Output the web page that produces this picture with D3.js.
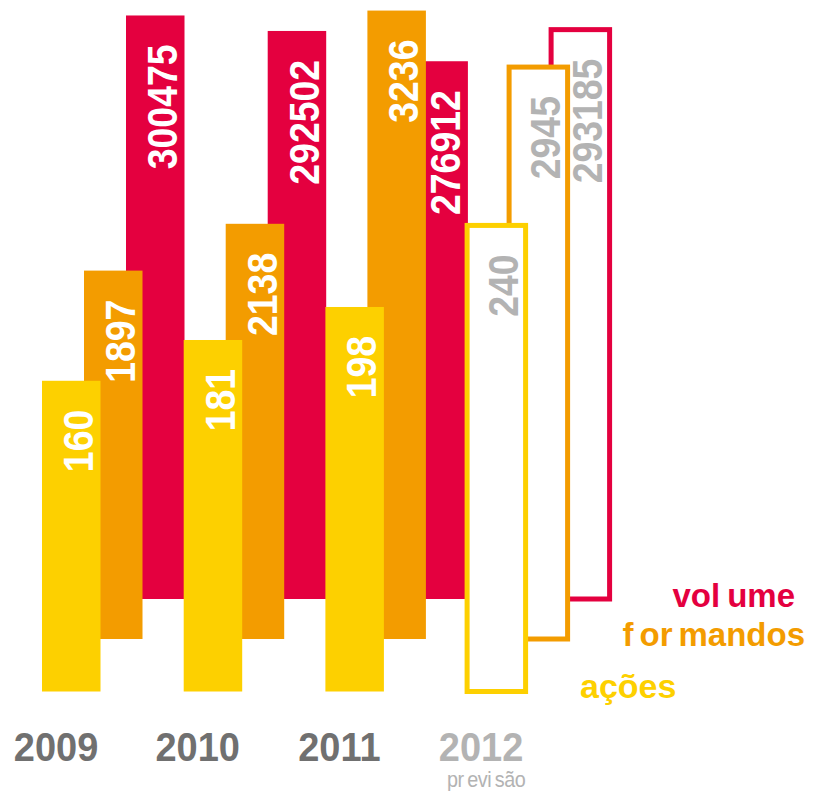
<!DOCTYPE html>
<html>
<head>
<meta charset="utf-8">
<script src="https://cdn.jsdelivr.net/npm/d3@7"></script>
<style>
  html, body { margin: 0; padding: 0; background: #fff; }
  svg { display: block; }
  text { font-family: "Liberation Sans", Arial, Helvetica, sans-serif; }
</style>
</head>
<body>
<svg id="chart" width="813" height="791"></svg>
<script>
// ---- data ----
const years = ["2009", "2010", "2011", "2012"];
const acoes = [160, 181, 198, 240];
const formandos = [1897, 2138, 3236, 2945];
const volume = [300475, 292502, 276912, 293185];
const isForecast = [false, false, false, true];
const seriesLabels = ["volume", "formandos", "ações"];
const forecastNote = "previsão";

// ---- layout ----
const svg = d3.select("#chart");
const barW = 58.5;
const stepPx = 141.7;

const x = d3.scaleBand()
  .domain(years)
  .range([42, 42 + stepPx * years.length])
  .paddingInner(0).paddingOuter(0);

const pxPerUnit = 582.6;
const yAcoes = d3.scaleLinear().domain([0, 300]).range([691.5, 691.5 - pxPerUnit]);
const yForm = d3.scaleLinear().domain([0, 3000]).range([639, 639 - pxPerUnit]);
const yVol = d3.scaleLinear().domain([0, 300000]).range([599, 599 - pxPerUnit]);

const colors = { volume: "#E4003F", formandos: "#F39C00", acoes: "#FDD000" };
const grey = "#b3b3b3";

// draw order: volume (back), formandos, ações (front)
const series = [
  { key: "volume", values: volume, y: yVol, dx: 84, color: colors.volume },
  { key: "formandos", values: formandos, y: yForm, dx: 42, color: colors.formandos },
  { key: "acoes", values: acoes, y: yAcoes, dx: 0, color: colors.acoes }
];

const gBars = svg.append("g");
series.forEach(s => {
  const data = years.map((yr, i) => ({ yr, v: s.values[i], f: isForecast[i] }));
  gBars.append("g").attr("class", "bars-" + s.key)
    .selectAll("rect").data(data).join("rect")
    .attr("x", d => x(d.yr) + s.dx)
    .attr("y", d => s.y(d.v))
    .attr("width", barW)
    .attr("height", d => s.y(0) - s.y(d.v))
    .attr("fill", d => d.f ? "#fff" : s.color)
    .attr("stroke", d => d.f ? s.color : "none")
    .attr("stroke-width", 5);
});

// value labels
const gLab = svg.append("g");
series.forEach(s => {
  const data = years.map((yr, i) => ({ yr, v: s.values[i], f: isForecast[i] }));
  gLab.append("g").selectAll("text").data(data).join("text")
    .attr("transform", d => {
      const tx = x(d.yr) + s.dx + barW - 7.5;
      const ty = s.y(d.v) + 29;
      return `translate(${tx},${ty}) rotate(-90) scale(0.89,1)`;
    })
    .attr("text-anchor", "end")
    .attr("font-size", 42)
    .attr("font-weight", "bold")
    .attr("fill", d => d.f ? grey : "#fff")
    .text(d => d.v);
});

// year labels
const gYears = svg.append("g");
gYears.selectAll("text").data(years.map((yr, i) => ({ yr, f: isForecast[i] }))).join("text")
  .attr("transform", d => `translate(${x(d.yr) + 14},761) scale(0.95,1)`)
  .attr("text-anchor", "middle")
  .attr("font-size", 40)
  .attr("font-weight", "bold")
  .attr("fill", d => d.f ? grey : "#707070")
  .text(d => d.yr);

// "previsão" note under forecast year
const fYear = years[isForecast.indexOf(true)];
const note = gYears.append("text")
  .attr("transform", `translate(${x(fYear) + 19},787) scale(0.9,1)`)
  .attr("text-anchor", "middle")
  .attr("font-size", 22)
  .attr("letter-spacing", -0.5)
  .attr("fill", grey);
note.append("tspan").text(forecastNote.slice(0, 2));
note.append("tspan").attr("dx", 4).text(forecastNote.slice(2, 5));
note.append("tspan").attr("dx", 4).text(forecastNote.slice(5));

// legend
const gLeg = svg.append("g").attr("font-size", 33).attr("font-weight", "bold");
const lv = gLeg.append("text").attr("x", 795).attr("y", 607)
  .attr("text-anchor", "end").attr("fill", colors.volume);
lv.append("tspan").text(seriesLabels[0].slice(0, 3));
lv.append("tspan").attr("dx", 7).text(seriesLabels[0].slice(3));

const lf = gLeg.append("text").attr("x", 805).attr("y", 646)
  .attr("text-anchor", "end").attr("fill", colors.formandos);
lf.append("tspan").text(seriesLabels[1].slice(0, 1));
lf.append("tspan").attr("dx", 6).text(seriesLabels[1].slice(1, 3));
lf.append("tspan").attr("dx", 6).text(seriesLabels[1].slice(3));

gLeg.append("text").attr("x", 580).attr("y", 698)
  .attr("text-anchor", "start").attr("font-size", 34).attr("fill", colors.acoes)
  .text(seriesLabels[2]);
</script>
</body>
</html>
